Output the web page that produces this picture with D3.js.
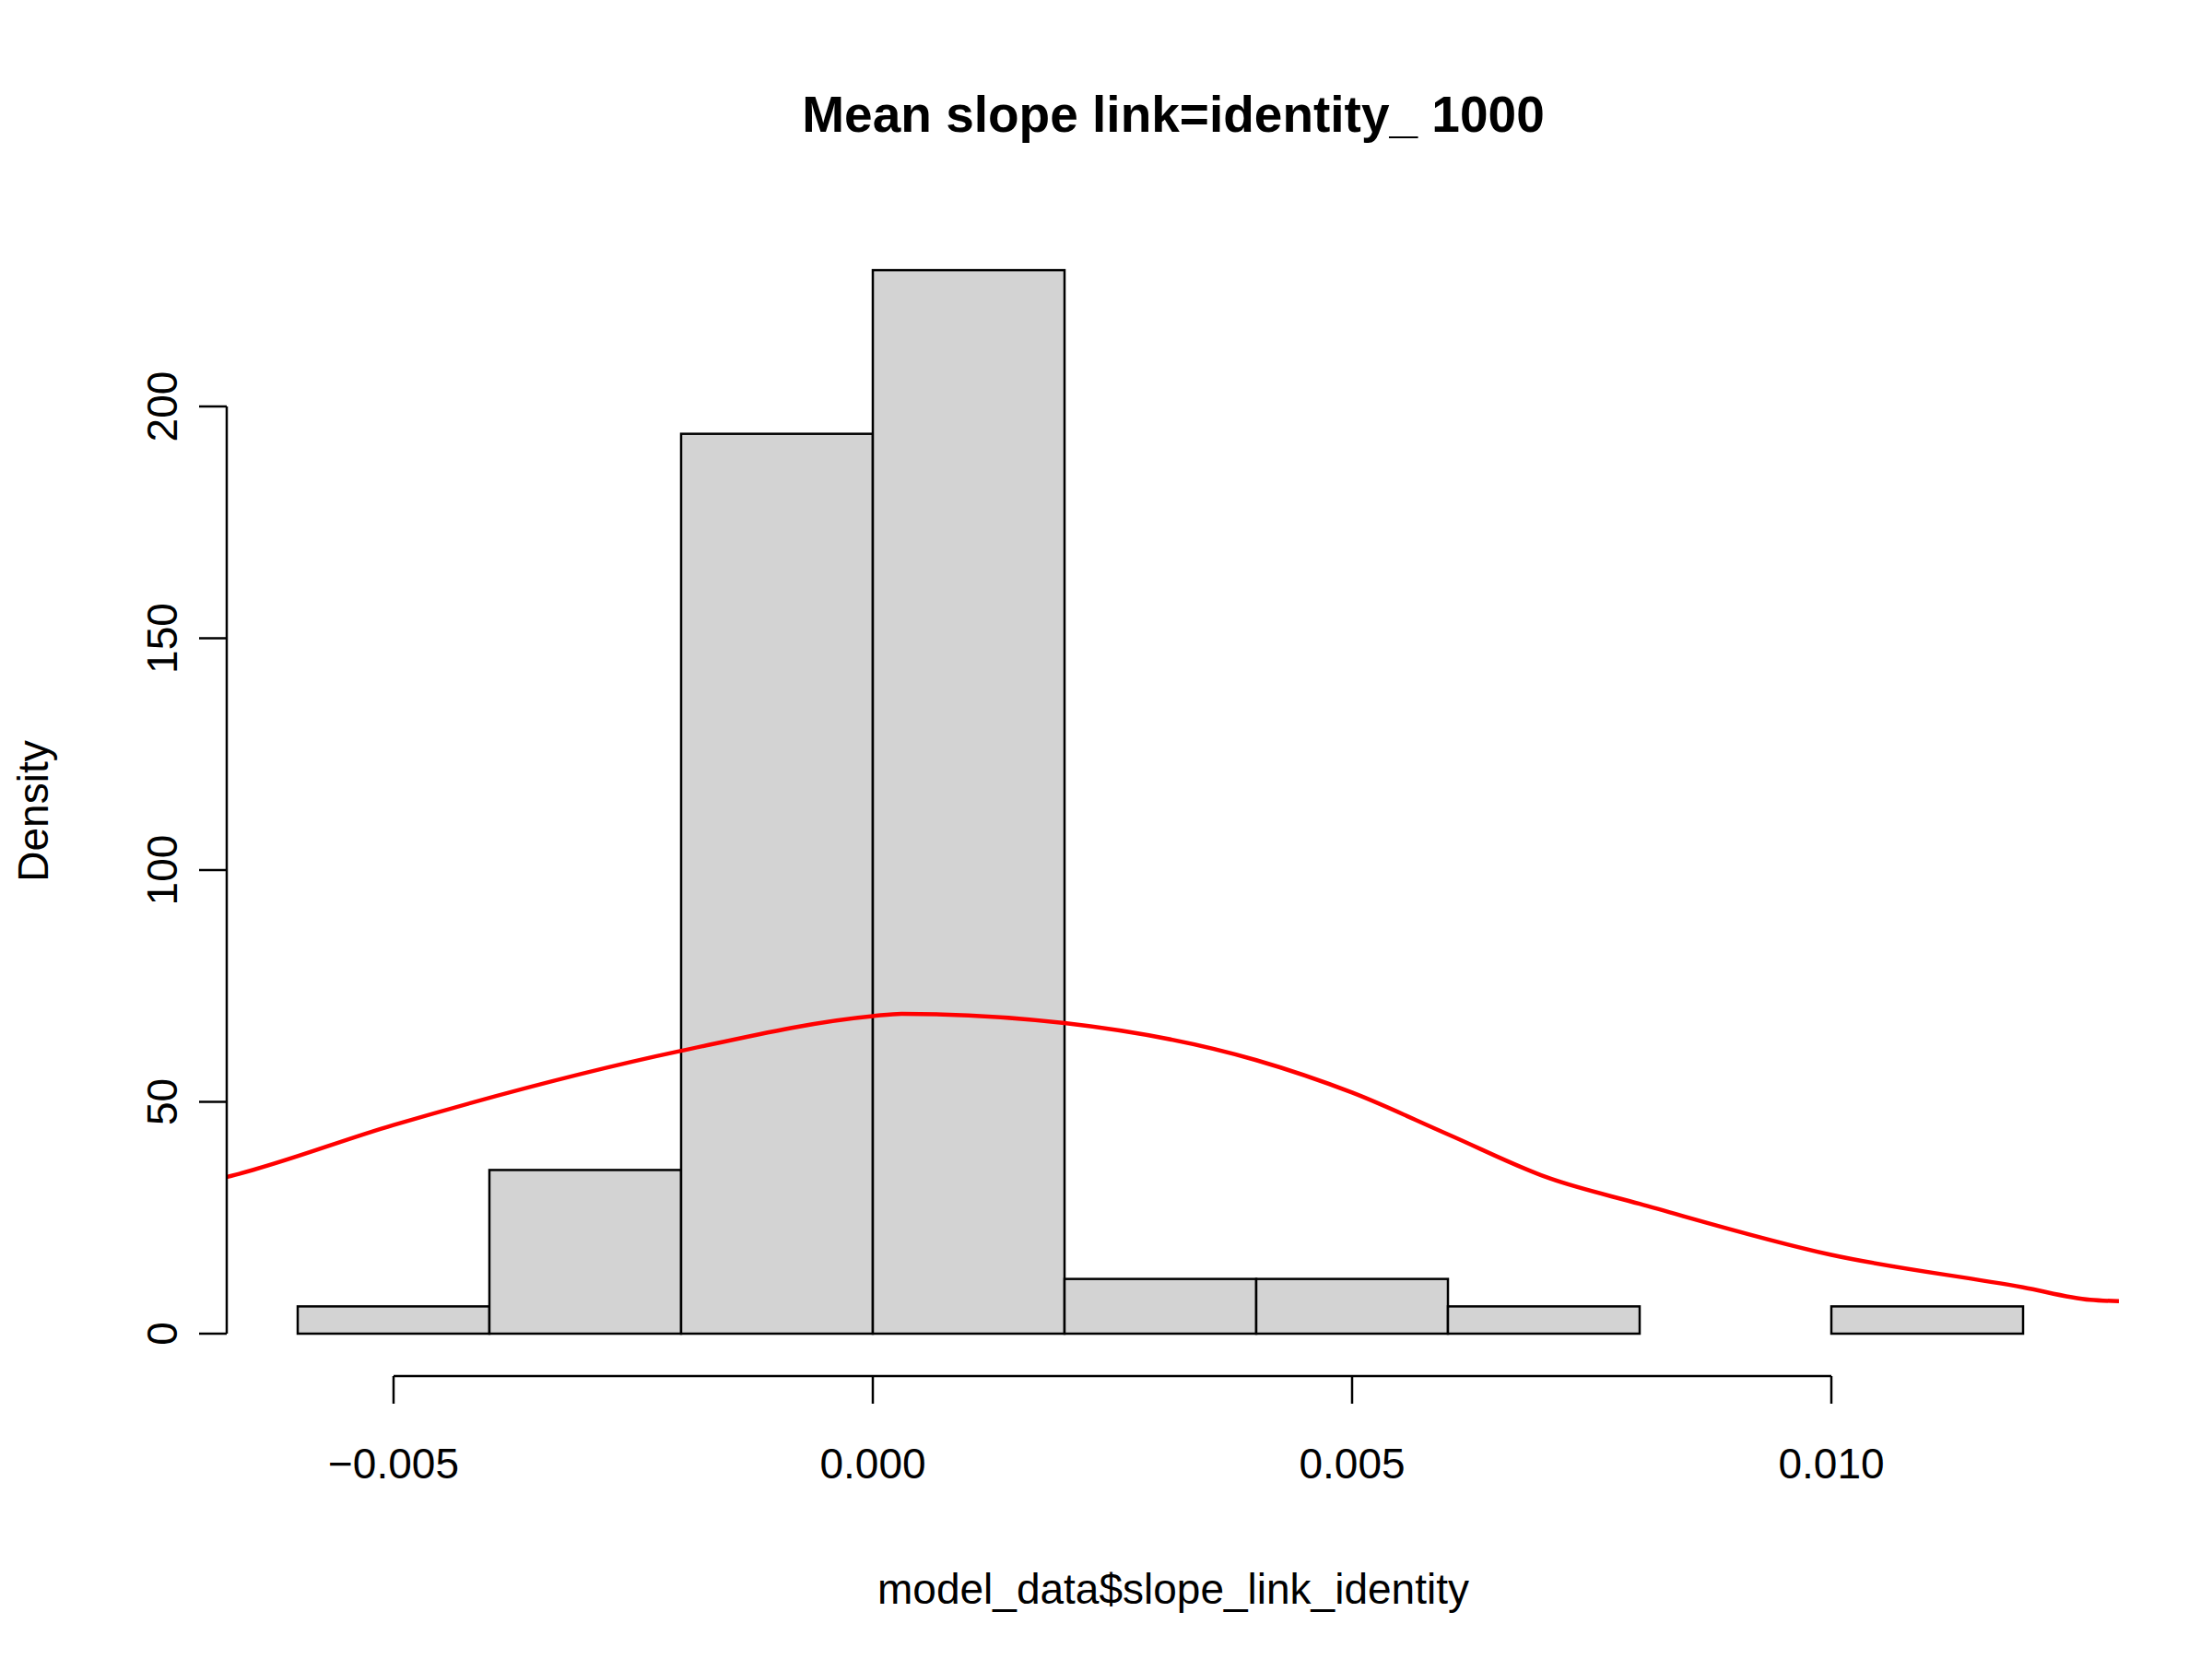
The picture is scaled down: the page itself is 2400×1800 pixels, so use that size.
<!DOCTYPE html>
<html><head><meta charset="utf-8">
<script src="https://cdn.jsdelivr.net/npm/d3@7"></script>
<style>body{margin:0;background:#fff}</style></head>
<body><svg id="c" width="2400" height="1800"></svg>
<script>
const binEdges = [-0.006,-0.004,-0.002,0,0.002,0.004,0.006,0.008,0.010,0.012];
const densities = [5.88,35.3,194.1,229.4,11.8,11.8,5.88,0,5.88];
const curveX = [-0.0068,-0.0067,-0.005,-0.002,0,0.0003,0.002,0.004,0.005,0.006,0.00706,0.008,0.010,0.012,0.0127,0.013];
const curveY = [33.5,34,45,61,68.5,69,67,59,52,43,33.5,28,17,10,7.3,7];
const xTicks = [-0.005,0,0.005,0.010];
const yTicks = [0,50,100,150,200];

const svg = d3.select("#c");
const F = "'Liberation Sans', Arial, sans-serif";
const x = d3.scaleLinear().domain([0,0.002]).range([947,1155]);
const y = d3.scaleLinear().domain([0,200]).range([1447,441]);
const L = 246, R = 2300;

svg.append("defs").append("clipPath").attr("id","clip").append("rect")
  .attr("x",L).attr("y",0).attr("width",R-L).attr("height",1800);

const bins = densities.map((d,i)=>({x0:binEdges[i],x1:binEdges[i+1],d}));
svg.selectAll("rect.bar").data(bins).join("rect").attr("class","bar")
  .attr("x",d=>x(d.x0)).attr("width",d=>x(d.x1)-x(d.x0))
  .attr("y",d=>y(d.d)).attr("height",d=>y(0)-y(d.d))
  .attr("fill","#d3d3d3").attr("stroke","#000").attr("stroke-width",2.5);

const pts = curveX.map((v,i)=>[v,curveY[i]]);
svg.append("path").attr("clip-path","url(#clip)")
  .attr("d",d3.line().x(d=>x(d[0])).y(d=>y(d[1])).curve(d3.curveMonotoneX)(pts))
  .attr("fill","none").attr("stroke","#ff0000").attr("stroke-width",4.5);

// x axis
const ax = svg.append("g").attr("transform","translate(0,1493)");
ax.append("line").attr("x1",x(xTicks[0])).attr("x2",x(xTicks[xTicks.length-1])).attr("stroke","#000").attr("stroke-width",2.5);
xTicks.forEach(t=>{
  ax.append("line").attr("x1",x(t)).attr("x2",x(t)).attr("y1",0).attr("y2",30).attr("stroke","#000").attr("stroke-width",2.5);
  ax.append("text").attr("x",x(t)).attr("y",111).attr("text-anchor","middle").attr("font-family",F).attr("font-size",46).text(d3.format(".3f")(t));
});
// y axis
const ay = svg.append("g").attr("transform",`translate(${L},0)`);
ay.append("line").attr("y1",y(0)).attr("y2",y(200)).attr("stroke","#000").attr("stroke-width",2.5);
yTicks.forEach(t=>{
  ay.append("line").attr("x1",0).attr("x2",-30).attr("y1",y(t)).attr("y2",y(t)).attr("stroke","#000").attr("stroke-width",2.5);
  ay.append("text").attr("transform",`translate(-70,${y(t)}) rotate(-90)`).attr("text-anchor","middle").attr("dy","0.35em").attr("font-family",F).attr("font-size",46).text(t);
});
svg.append("text").attr("x",1273).attr("y",143).attr("text-anchor","middle").attr("font-family",F).attr("font-weight","bold").attr("font-size",55).text("Mean slope link=identity_ 1000");
svg.append("text").attr("x",1273).attr("y",1740).attr("text-anchor","middle").attr("font-family",F).attr("font-size",46).text("model_data$slope_link_identity");
svg.append("text").attr("transform","translate(52,880) rotate(-90)").attr("text-anchor","middle").attr("font-family",F).attr("font-size",46).text("Density");
</script></body></html>
